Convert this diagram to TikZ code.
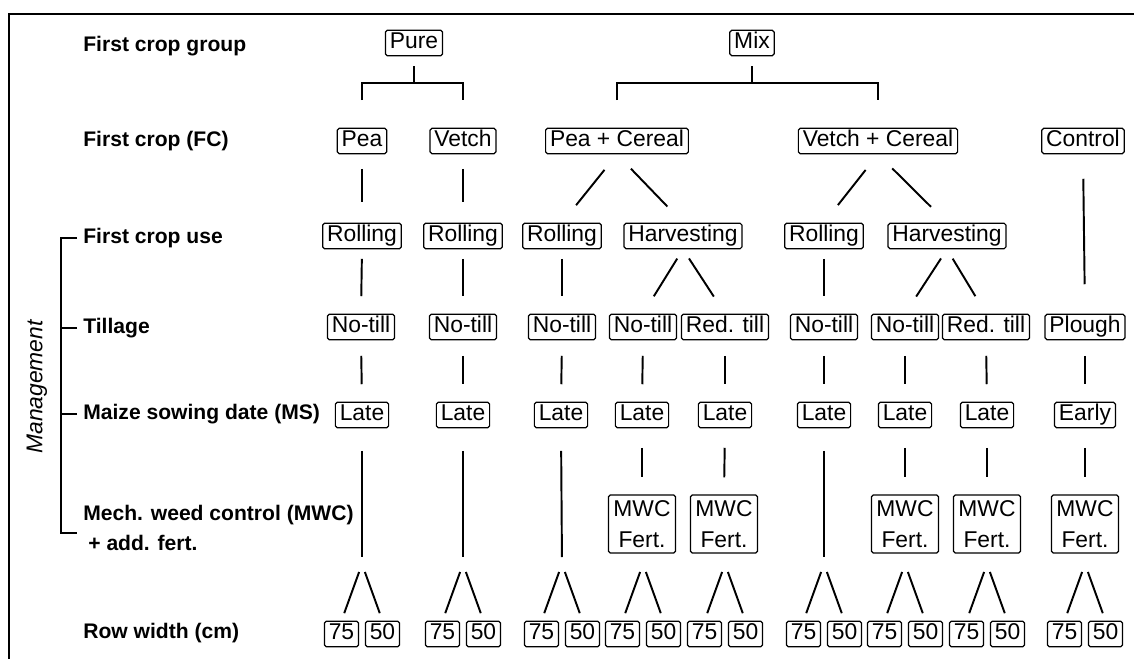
\documentclass[tikz,border=0pt]{standalone}
\usepackage{fontspec}
\setmainfont{Liberation Sans}
\usetikzlibrary{positioning,calc}

\begin{document}
\begin{tikzpicture}[
    x=0.02cm, y=-0.02cm,
    box/.style={draw, line width=0.7pt, rounded corners=1pt, inner xsep=2.5pt, inner ysep=1pt, font=\fontsize{13}{16}\selectfont},
    opt/.style={box, text height=9.6pt, text depth=2.8pt},
    mwcb/.style={box, align=center, minimum width=1.34cm, minimum height=1.16cm, font=\fontsize{13}{17.6}\selectfont},
    lbl/.style={anchor=west, inner sep=0pt, align=left, font=\fontsize{12}{17}\selectfont\bfseries},
    ln/.style={line width=1.1pt},
    dg/.style={ln, shorten <=0.4cm, shorten >=0.45cm},
    sp/.style={ln, shorten <=0.17cm, shorten >=0.16cm}
]
    \useasboundingbox (0,0) rectangle (1134,659);
    \draw [line width=1.5pt] (9,659) -- (9,14) -- (1134,14);

    % row labels
    \node [lbl] (l1) at (83,46) {First crop group};
    \node [lbl] (l2) at (83,141) {First crop (FC)};
    \node [lbl] (l3) at (83,238) {First crop use};
    \node [lbl] (l4) at (83,328) {Tillage};
    \node [lbl] (l5) at (83,414) {Maize sowing date (MS)};
    \node [lbl] (l6) at (83,528) {Mech. weed control (MWC)\\\hspace{0.1cm}+ add. fert.};
    \node [lbl] (l7) at (83,633) {Row width (cm)};
    \node [rotate=90, font=\fontsize{13}{16}\selectfont\itshape] (mg) at (37,387) {Management};

    \coordinate (brk) at (61,0);
    \draw [ln] ([xshift=-0.12cm]l3.west) -- (l3.west -| brk) -- ([yshift=-0.1cm]l6.west -| brk) -- ([xshift=-0.12cm,yshift=-0.1cm]l6.west);
    \draw [ln] ([xshift=-0.12cm]l4.west) -- (l4.west -| brk);
    \draw [ln] ([xshift=-0.12cm]l5.west) -- (l5.west -| brk);

    % first crop group
    \node [opt] (pure) at (414,43) {Pure};
    \node [opt] (mix) at (752,43) {Mix};

    % first crop
    \node [opt] (pea) at (362,141) {Pea};
    \node [opt] (vet) at (463,141) {Vetch};
    \node [opt] (pc) at (617,141) {Pea + Cereal};
    \node [opt] (vc) at (878,141) {Vetch + Cereal};
    \node [opt] (ctl) at (1083,141) {Control};

    \coordinate (jp) at (414,83);
    \coordinate (jm) at (752,83);
    \draw [ln] ([yshift=-0.2cm]pure.south) -- (jp);
    \draw [ln] ([yshift=0.55cm]pea.north) -- (pea |- jp) -- (vet |- jp) -- ([yshift=0.55cm]vet.north);
    \draw [ln] ([yshift=-0.2cm]mix.south) -- (jm);
    \draw [ln] ([yshift=0.55cm]pc.north) -- (pc |- jm) -- (vc |- jm) -- ([yshift=0.55cm]vc.north);

    % first crop use
    \node [opt] (r1) at (362,236) {Rolling};
    \node [opt] (r2) at (463,236) {Rolling};
    \node [opt] (r3) at (562,236) {Rolling};
    \node [opt] (h1) at (683,236) {Harvesting};
    \node [opt] (r4) at (824,236) {Rolling};
    \node [opt] (h2) at (947,236) {Harvesting};

    \draw [ln, shorten <=0.29cm, shorten >=0.41cm] (pea.south) -- (r1.north);
    \draw [ln, shorten <=0.29cm, shorten >=0.41cm] (vet.south) -- (r2.north);
    \draw [dg] (pc.south) -- (r3.north);
    \draw [dg] (pc.south) -- (h1.north);
    \draw [dg] (vc.south) -- (r4.north);
    \draw [dg] (vc.south) -- (h2.north);

    % tillage
    \node [opt] (t1) at (361,327) {No-till};
    \node [opt] (t2) at (463,327) {No-till};
    \node [opt] (t3) at (562,327) {No-till};
    \node [opt] (t4) at (643,327) {No-till};
    \node [opt] (t5) at (725,327) {Red. till};
    \node [opt] (t6) at (824,327) {No-till};
    \node [opt] (t7) at (905,327) {No-till};
    \node [opt] (t8) at (986,327) {Red. till};
    \node [opt] (t9) at (1085,327) {Plough};

    \draw [ln, shorten <=0.19cm, shorten >=0.35cm] (r1.south) -- (t1.north);
    \draw [ln, shorten <=0.19cm, shorten >=0.35cm] (r2.south) -- (t2.north);
    \draw [ln, shorten <=0.19cm, shorten >=0.35cm] (r3.south) -- (t3.north);
    \draw [ln, shorten <=0.19cm, shorten >=0.35cm] (r4.south) -- (t6.north);
    \draw [ln, shorten <=0.22cm, shorten >=0.41cm] (h1.south) -- (t4.north);
    \draw [ln, shorten <=0.22cm, shorten >=0.41cm] (h1.south) -- (t5.north);
    \draw [ln, shorten <=0.22cm, shorten >=0.41cm] (h2.south) -- (t7.north);
    \draw [ln, shorten <=0.22cm, shorten >=0.41cm] (h2.south) -- (t8.north);
    \draw [ln, shorten <=0.49cm, shorten >=0.59cm] (ctl.south) -- (t9.north);

    % maize sowing date
    \node [opt] (m1) at (362,415) {Late};
    \node [opt] (m2) at (463,415) {Late};
    \node [opt] (m3) at (561,415) {Late};
    \node [opt] (m4) at (642,415) {Late};
    \node [opt] (m5) at (725,415) {Late};
    \node [opt] (m6) at (824,415) {Late};
    \node [opt] (m7) at (905,415) {Late};
    \node [opt] (m8) at (987,415) {Late};
    \node [opt] (m9) at (1085,415) {Early};

    \draw [ln, shorten <=0.31cm, shorten >=0.35cm] (t1.south) -- (m1.north);
    \draw [ln, shorten <=0.31cm, shorten >=0.35cm] (t2.south) -- (m2.north);
    \draw [ln, shorten <=0.31cm, shorten >=0.35cm] (t3.south) -- (m3.north);
    \draw [ln, shorten <=0.31cm, shorten >=0.35cm] (t4.south) -- (m4.north);
    \draw [ln, shorten <=0.31cm, shorten >=0.35cm] (t5.south) -- (m5.north);
    \draw [ln, shorten <=0.31cm, shorten >=0.35cm] (t6.south) -- (m6.north);
    \draw [ln, shorten <=0.31cm, shorten >=0.35cm] (t7.south) -- (m7.north);
    \draw [ln, shorten <=0.31cm, shorten >=0.35cm] (t8.south) -- (m8.north);
    \draw [ln, shorten <=0.31cm, shorten >=0.35cm] (t9.south) -- (m9.north);

    % mechanical weed control + fertilisation
    \node [mwcb] (w4) at (642,524) {MWC\\Fert.};
    \node [mwcb] (w5) at (724,524) {MWC\\Fert.};
    \node [mwcb] (w7) at (905,524) {MWC\\Fert.};
    \node [mwcb] (w8) at (987,524) {MWC\\Fert.};
    \node [mwcb] (w9) at (1085,524) {MWC\\Fert.};

    \draw [ln, shorten <=0.39cm, shorten >=0.34cm] (m4.south) -- (w4.north);
    \draw [ln, shorten <=0.39cm, shorten >=0.34cm] (m5.south) -- (w5.north);
    \draw [ln, shorten <=0.39cm, shorten >=0.34cm] (m7.south) -- (w7.north);
    \draw [ln, shorten <=0.39cm, shorten >=0.34cm] (m8.south) -- (w8.north);
    \draw [ln, shorten <=0.39cm, shorten >=0.34cm] (m9.south) -- (w9.north);

    % row width
    \foreach \i/\c in {1/362,2/463,3/562,4/643,5/725,6/824,7/905,8/987,9/1085} {
        \coordinate (s\i) at (\c,564);
        \node [opt] (a\i) at (\c-20.5,634) {75};
        \node [opt] (b\i) at (\c+20.5,634) {50};
        \draw [sp] (s\i) -- (a\i.north);
        \draw [sp] (s\i) -- (b\i.north);
    }

    \draw [ln, shorten <=0.45cm, shorten >=0.14cm] (m1.south) -- (s1);
    \draw [ln, shorten <=0.45cm, shorten >=0.14cm] (m2.south) -- (s2);
    \draw [ln, shorten <=0.45cm, shorten >=0.14cm] (m3.south) -- (s3);
    \draw [ln, shorten <=0.45cm, shorten >=0.14cm] (m6.south) -- (s6);
\end{tikzpicture}
\end{document}
